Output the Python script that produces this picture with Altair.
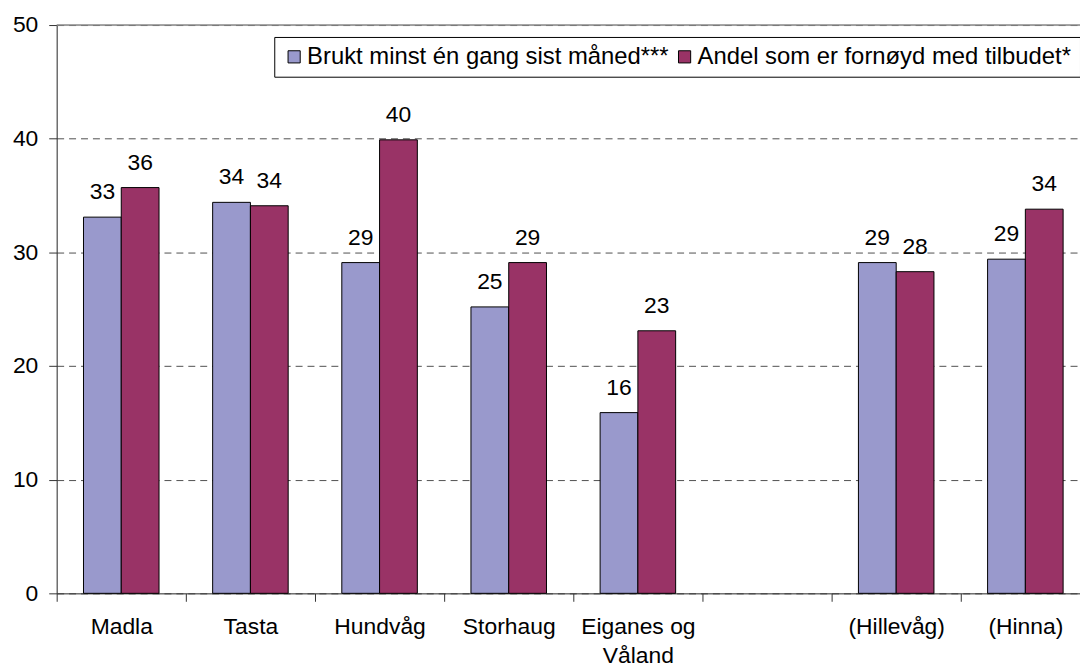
import altair as alt
import pandas as pd

# ---- data ----
categories = ["Madla", "Tasta", "Hundvåg", "Storhaug", "Eiganes og Våland", " ", "(Hillevåg)", "(Hinna)"]
bar_categories = ["Madla", "Tasta", "Hundvåg", "Storhaug", "Eiganes og Våland", "(Hillevåg)", "(Hinna)"]
series = ["Brukt minst én gang sist måned***", "Andel som er fornøyd med tilbudet*"]
brukt = [33.1, 34.4, 29.1, 25.2, 15.9, 29.1, 29.4]
fornoyd = [35.7, 34.1, 39.9, 29.1, 23.1, 28.3, 33.8]
y_ticks = [0, 10, 20, 30, 40, 50]
top_border = [50]
colors = ["#9999CC", "#993366"]

rows = []
for c, v in zip(bar_categories, brukt):
    rows.append({"omrade": c, "serie": series[0], "verdi": v})
for c, v in zip(bar_categories, fornoyd):
    rows.append({"omrade": c, "serie": series[1], "verdi": v})
df = pd.DataFrame(rows)

FONT = "Liberation Sans"

x_enc = alt.X(
    "omrade:N",
    sort=categories,
    scale=alt.Scale(domain=categories, range=[0, 1040], paddingInner=0, paddingOuter=0),
    axis=alt.Axis(
        title=None, labelAngle=0, tickBand="extent", tickSize=8, labelPadding=14,
        labelFontSize=23, labelFont=FONT, labelColor="black", labelLimit=400,
        labelLineHeight=30, domainColor="#333333", tickColor="#333333", grid=False,
        labelExpr="datum.label == 'Eiganes og Våland' ? ['Eiganes og', 'Våland'] : datum.label",
    ),
)
y_enc = alt.Y(
    "verdi:Q",
    scale=alt.Scale(domain=[0, 50], nice=False),
    axis=alt.Axis(
        values=y_ticks, title=None, tickSize=8, labelPadding=11, labelFontSize=23,
        labelFont=FONT, labelColor="black", domainColor="#333333", tickColor="#333333",
        grid=True, gridDash=[7, 5], gridColor="#505050", gridWidth=1,
    ),
)
xoff = alt.XOffset(
    "serie:N", sort=series,
    scale=alt.Scale(domain=series, paddingInner=0, paddingOuter=0.71),
)

base = alt.Chart(df).encode(x=x_enc, xOffset=xoff, y=y_enc)

bars = base.mark_bar(stroke="black", strokeWidth=1).encode(
    color=alt.Color(
        "serie:N", sort=series,
        scale=alt.Scale(domain=series, range=colors),
        legend=alt.Legend(
            orient="none", legendX=219, legendY=12, direction="horizontal", title=None,
            symbolType="square", symbolSize=150, symbolStrokeColor="black", symbolStrokeWidth=1,
            labelFontSize=24, labelFont=FONT, labelColor="black", labelLimit=600,
            strokeColor="black", fillColor="white", padding=8, columnPadding=3, labelOffset=1,
        ),
    )
)

labels = base.mark_text(dy=-18, baseline="alphabetic", fontSize=23, font=FONT, color="black").encode(
    text=alt.Text("verdi:Q", format=".0f")
)

border = alt.Chart(pd.DataFrame({"grense": top_border})).mark_rule(color="#888888", strokeWidth=1.5).encode(
    y=alt.Y("grense:Q")
)

chart = alt.layer(bars, labels, border).properties(
    width=1030,
    height=572,
    autosize=alt.AutoSizeParams(type="none"),
    padding={"left": 49, "top": 15, "right": 0, "bottom": 74},
).configure_view(stroke=None).configure(background="white")

chart.save("out.html", embed_options={"renderer": "svg", "actions": False})
